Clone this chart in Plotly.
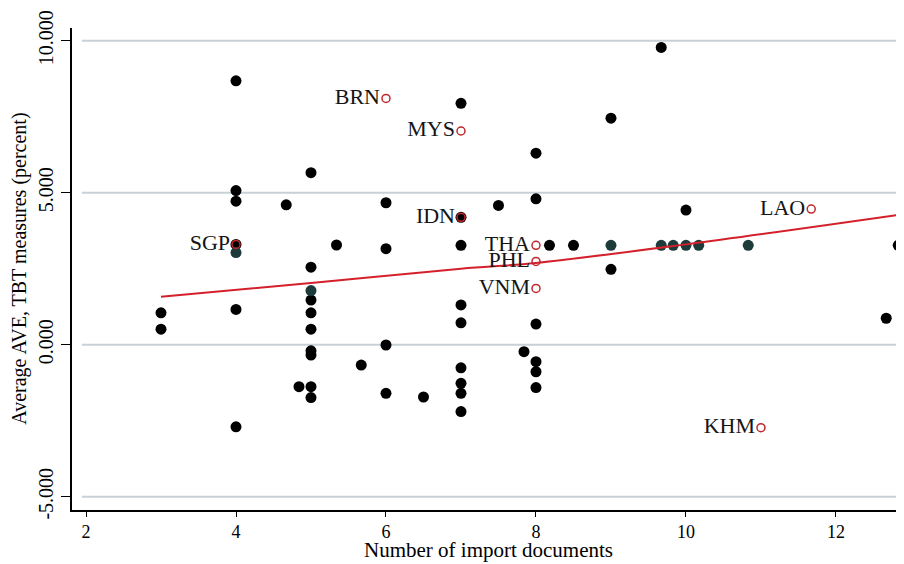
import plotly.graph_objects as go

# ---- data ----
# filled (black) observations
black_x = [3, 3,
           4, 4, 4, 4, 4, 4,
           4.67, 4.84,
           5, 5, 5, 5, 5, 5, 5, 5, 5,
           5.34, 5.67,
           6, 6, 6, 6,
           6.5,
           7, 7, 7, 7, 7, 7, 7, 7, 7,
           7.5, 7.84,
           8, 8, 8, 8, 8, 8,
           8.18, 8.5,
           9, 9,
           9.67, 10, 12.67, 12.83]
black_y = [1.05, 0.51,
           8.68, 5.07, 4.72, 3.30, 1.16, -2.70,
           4.60, -1.38,
           5.66, 2.55, 1.47, 1.05, 0.51, -0.20, -0.34, -1.38, -1.74,
           3.28, -0.67,
           4.67, 3.16, -0.01, -1.60,
           -1.72,
           7.94, 4.19, 3.27, 1.31, 0.72, -0.76, -1.27, -1.60, -2.20,
           4.58, -0.23,
           6.30, 4.80, 0.68, -0.56, -0.89, -1.41,
           3.27, 3.27,
           7.45, 2.48,
           9.78, 4.43, 0.87, 3.27]

# dark teal observations (overlapping markers)
teal_x = [4, 5, 9, 9.67, 9.83, 10, 10.17, 10.83]
teal_y = [3.03, 1.78, 3.27, 3.27, 3.27, 3.27, 3.27, 3.27]

# ASEAN countries (hollow red circles)
asean_names = ["BRN", "MYS", "IDN", "SGP", "THA", "PHL", "VNM", "LAO", "KHM"]
asean_x = [6, 7, 7, 4, 8, 8, 8, 11.67, 11]
asean_y = [8.10, 7.03, 4.19, 3.30, 3.27, 2.74, 1.85, 4.46, -2.73]

# fitted line
fit_x = [3, 5, 7, 8, 10, 12.83]
fit_y = [1.58, 2.03, 2.50, 2.69, 3.30, 4.27]

x_ticks = [2, 4, 6, 8, 10, 12]
y_ticks = [-5, 0, 5, 10]
y_ticktext = ["-5.000", "0.000", "5.000", "10.000"]

x_title = "Number of import documents"
y_title = "Average AVE, TBT measures (percent)"

FONT = "Liberation Serif"

fig = go.Figure()

fig.add_trace(go.Scatter(
    x=black_x, y=black_y, mode="markers",
    marker=dict(color="black", size=11, line=dict(width=0)),
    showlegend=False, hoverinfo="skip"))

fig.add_trace(go.Scatter(
    x=teal_x, y=teal_y, mode="markers",
    marker=dict(color="#1e3b3c", size=11, line=dict(width=0)),
    showlegend=False, hoverinfo="skip"))

fig.add_trace(go.Scatter(
    x=fit_x, y=fit_y, mode="lines",
    line=dict(color="#d4202a", width=2, shape="spline"),
    showlegend=False, hoverinfo="skip"))

fig.add_trace(go.Scatter(
    x=asean_x, y=asean_y, mode="markers+text",
    text=asean_names, textposition="middle left",
    textfont=dict(family=FONT, size=22, color="#151515"),
    marker=dict(color="rgba(0,0,0,0)", size=8,
                line=dict(color="#c0282e", width=1.5)),
    showlegend=False, hoverinfo="skip"))

# horizontal grid lines that start a little right of the y axis (Stata style)
grid_shapes = [
    dict(type="line", xref="paper", yref="y", x0=0.012, x1=1, y0=v, y1=v,
         line=dict(color="#c8d2d6", width=2), layer="below")
    for v in y_ticks
]

# page has an 8px body margin, so the figure is laid out 8px smaller
fig.update_layout(
    width=896, height=556,
    margin=dict(l=64, r=0, t=20, b=54),
    paper_bgcolor="white", plot_bgcolor="white",
    font=dict(family=FONT, color="black"),
    shapes=grid_shapes,
    annotations=[
        dict(text=x_title, xref="paper", yref="paper", x=0.5, y=-0.084,
             xanchor="center", yanchor="middle", showarrow=False,
             font=dict(family=FONT, size=21, color="black")),
        dict(text=y_title, xref="paper", yref="paper", x=-0.064, y=0.5,
             xanchor="center", yanchor="middle", showarrow=False,
             textangle=-90,
             font=dict(family=FONT, size=20, color="black")),
    ],
)

fig.update_xaxes(
    range=[1.8133, 12.907],
    tickvals=x_ticks,
    ticks="outside", ticklen=5, tickwidth=1, tickcolor="black",
    showline=True, linecolor="black", linewidth=1.5,
    showgrid=False, zeroline=False,
    tickfont=dict(family=FONT, size=18, color="black"),
    automargin=False,
)

fig.update_yaxes(
    range=[-5.4375, 10.418],
    tickvals=y_ticks, ticktext=y_ticktext, tickangle=-90,
    ticks="outside", ticklen=9, tickwidth=1, tickcolor="black",
    showline=True, linecolor="black", linewidth=1.5,
    showgrid=False, zeroline=False,
    tickfont=dict(family=FONT, size=20, color="black"),
    automargin=False,
)

fig.write_html("out.html")
